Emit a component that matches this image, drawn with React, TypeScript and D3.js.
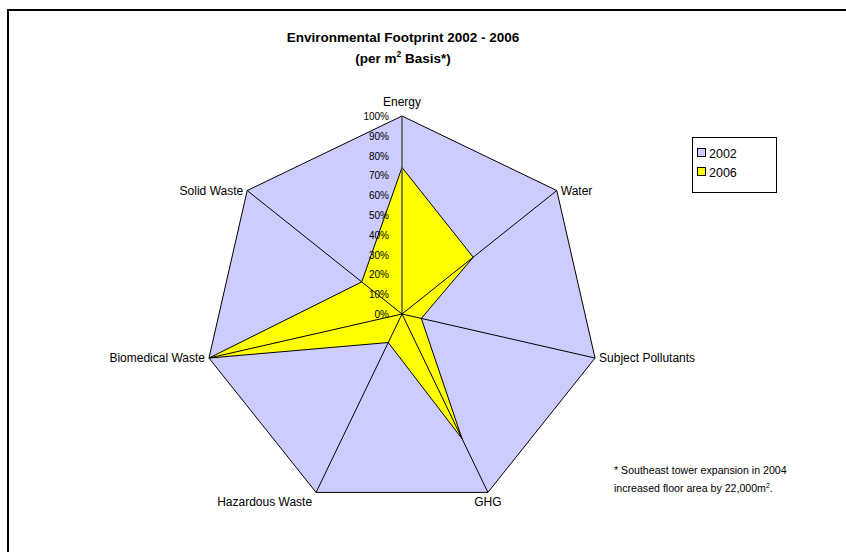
import React from 'react';
import * as d3 from 'd3';

// chart data
const categories = ['Energy', 'Water', 'Subject Pollutants', 'GHG', 'Hazardous Waste', 'Biomedical Waste', 'Solid Waste'];
const values2002 = [1, 1, 1, 1, 1, 1, 1];
const values2006 = [0.74, 0.46, 0.10, 0.70, 0.16, 1, 0.26];
const tickValues = [0, 0.1, 0.2, 0.3, 0.4, 0.5, 0.6, 0.7, 0.8, 0.9, 1];
const seriesNames = ['2002', '2006'];
const seriesColors = ['#CCCCFF', '#FFFF00'];

const W = 846;
const H = 552;
const cx = 402;
const cy = 314;
const font = 'Arial, "Liberation Sans", sans-serif';

const App = () => {
    const r = d3.scaleLinear().domain([0, 1]).range([0, 198]);
    const angle = d3.scaleLinear().domain([0, categories.length]).range([0, 2 * Math.PI]);
    const pct = d3.format('.0%');

    const radar = d3.lineRadial<number>()
        .angle((d, i) => angle(i))
        .radius(d => r(d))
        .curve(d3.curveLinearClosed);

    const point = (i: number, v: number) => {
        const a = angle(i);
        return [Math.sin(a) * r(v), -Math.cos(a) * r(v)];
    };

    // label positions around the outside
    const labelProps = (i: number) => {
        const [x, y] = point(i, 1);
        const a = angle(i);
        const s = Math.sin(a);
        const c = Math.cos(a);
        if (Math.abs(s) < 0.01) return { x, y: y - 10, anchor: 'middle' };
        if (c < -0.85) return { x: x + (s > 0 ? 0 : -4), y: y + 14, anchor: s > 0 ? 'middle' : 'end' };
        return { x: x + (s > 0 ? 4 : -4), y: y + 4, anchor: s > 0 ? 'start' : 'end' };
    };

    return (
        <svg width={W} height={H} style={{ position: 'absolute', left: 0, top: 0, background: '#fff' }} fontFamily={font}>
            <rect x={8} y={10} width={W + 20} height={H + 20} fill="#fff" stroke="#000" strokeWidth={2} />

            <text x={403} y={42} textAnchor="middle" fontSize={13.5} fontWeight="bold">Environmental Footprint 2002 - 2006</text>
            <text x={403} y={63} textAnchor="middle" fontSize={13.5} fontWeight="bold">
                (per m<tspan dy={-6} fontSize={8.5}>2</tspan><tspan dy={6}> Basis*)</tspan>
            </text>

            <g transform={`translate(${cx},${cy})`}>
                <path d={radar(values2002) ?? ''} fill={seriesColors[0]} stroke="#000" strokeWidth={1} />
                <path d={radar(values2006) ?? ''} fill={seriesColors[1]} stroke="#000" strokeWidth={1} />
                {categories.map((c, i) => {
                    const [x, y] = point(i, 1);
                    return (
                        <line key={c} x1={0} y1={0} x2={x} y2={y}
                            stroke={i === 0 ? '#555' : '#000'} strokeWidth={i === 0 ? 1.5 : 1} />
                    );
                })}
                {tickValues.map(t => (
                    <text key={t} x={-13} y={-r(t) + 4} textAnchor="end" fontSize={10} fill="#000">{pct(t)}</text>
                ))}
                {categories.map((c, i) => {
                    const p = labelProps(i);
                    return (
                        <text key={c} x={p.x} y={p.y} textAnchor={p.anchor} fontSize={12} fill="#000">{c}</text>
                    );
                })}
            </g>

            <rect x={692.5} y={137.5} width={84} height={55} fill="#fff" stroke="#000" strokeWidth={1} />
            {seriesNames.map((s, i) => (
                <g key={s} transform={`translate(697,${153 + i * 19})`}>
                    <rect x={0.5} y={-4.5} width={8} height={8} fill={seriesColors[i]} stroke="#000" strokeWidth={1} />
                    <text x={12} y={4.5} fontSize={12.5} fill="#000">{s}</text>
                </g>
            ))}

            <text x={614} y={474} fontSize={10.6} fill="#000">* Southeast tower expansion in 2004</text>
            <text x={614} y={492} fontSize={10.6} fill="#000">
                increased floor area by 22,000m<tspan dy={-4} fontSize={7}>2</tspan><tspan dy={4}>.</tspan>
            </text>
        </svg>
    );
};

export default App;
